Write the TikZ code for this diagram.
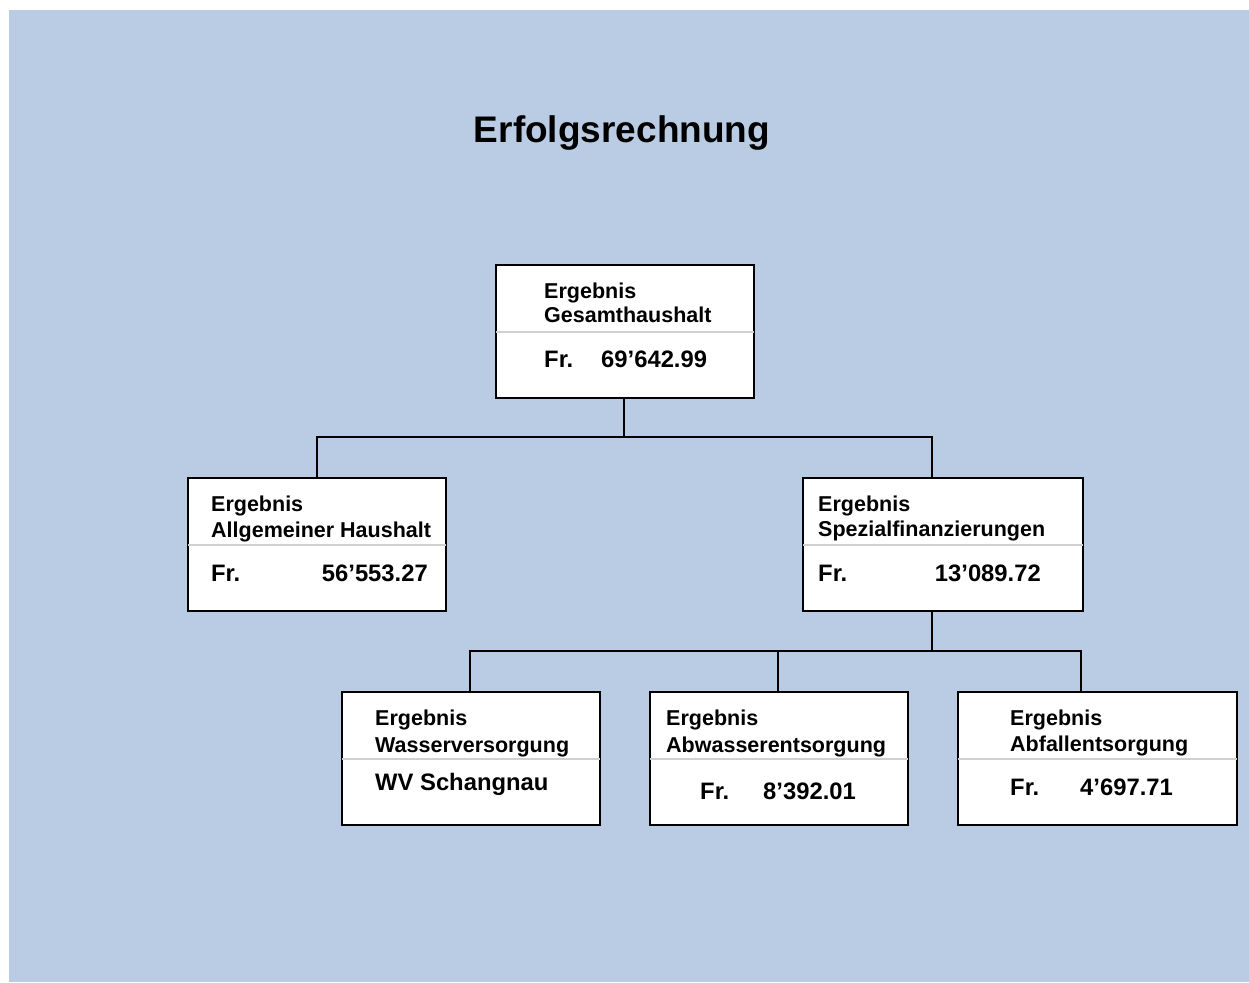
\documentclass[tikz,border=0pt]{standalone}
\usepackage{fontspec}
\setmainfont{Liberation Sans}
\usetikzlibrary{calc}
\definecolor{bgblue}{HTML}{B9CCE4}
\definecolor{sepgray}{HTML}{D0D0D0}
\begin{document}
\begin{tikzpicture}[x=1pt,y=-1pt,
  box/.style={draw=black, fill=white, line width=2pt, rectangle, inner sep=0pt, anchor=north west},
  lbl/.style={inner sep=0pt, anchor=base west, font=\fontsize{21.5}{25}\selectfont\bfseries},
  val/.style={inner sep=0pt, anchor=base west, font=\fontsize{23.8}{28}\selectfont\bfseries},
  valr/.style={inner sep=0pt, anchor=base east, font=\fontsize{23.8}{28}\selectfont\bfseries},
  sep/.style={draw=sepgray, line width=2pt},
  conn/.style={draw=black, line width=1.8pt}]
\useasboundingbox (0,0) rectangle (1249,982);
\fill[white] (0,0) rectangle (1249,982);
\fill[bgblue] (9,10) rectangle (1249,982);
% title
\node[inner sep=0pt, anchor=base, font=\fontsize{37}{44}\selectfont\bfseries] (title) at (622,142) {Erfolgsrechnung};
% boxes
\node[box, minimum width=258pt, minimum height=133pt] (top) at (495,264) {};
\node[box, minimum width=258pt, minimum height=133pt] (left) at (187,477) {};
\node[box, minimum width=280pt, minimum height=133pt] (right) at (802,477) {};
\node[box, minimum width=258pt, minimum height=133pt] (wv) at (341,691) {};
\node[box, minimum width=258pt, minimum height=133pt] (aw) at (649,691) {};
\node[box, minimum width=279pt, minimum height=133pt] (af) at (957,691) {};
% separators
\draw[sep] ($(top.west)+(1,0)$ |- 0,331) -- ($(top.east)+(-1,0)$ |- 0,331);
\draw[sep] ($(left.west)+(1,0)$ |- 0,545) -- ($(left.east)+(-1,0)$ |- 0,545);
\draw[sep] ($(right.west)+(1,0)$ |- 0,545) -- ($(right.east)+(-1,0)$ |- 0,545);
\draw[sep] ($(wv.west)+(1,0)$ |- 0,758) -- ($(wv.east)+(-1,0)$ |- 0,758);
\draw[sep] ($(aw.west)+(1,0)$ |- 0,758) -- ($(aw.east)+(-1,0)$ |- 0,758);
\draw[sep] ($(af.west)+(1,0)$ |- 0,758) -- ($(af.east)+(-1,0)$ |- 0,758);
% texts top
\node[lbl] (t1) at (544,298) {Ergebnis};
\node[lbl] (t2) at (544,322) {Gesamthaushalt};
\node[val] (t3) at (544,367) {Fr.};
\node[val] (t4) at (601,367) {69’642.99};
% left
\node[lbl] (l1) at (211,511) {Ergebnis};
\node[lbl] (l2) at (211,537) {Allgemeiner Haushalt};
\node[val] (l3) at (211,581) {Fr.};
\node[valr] (l4) at (428,581) {56’553.27};
% right
\node[lbl] (r1) at (818,511) {Ergebnis};
\node[lbl] (r2) at (818,536) {Spezialfinanzierungen};
\node[val] (r3) at (818,581) {Fr.};
\node[valr] (r4) at (1041,581) {13’089.72};
% wv
\node[lbl] (w1) at (375,725) {Ergebnis};
\node[lbl] (w2) at (375,752) {Wasserversorgung};
\node[val] (w3) at (375,790) {WV Schangnau};
% aw
\node[lbl] (a1) at (666,725) {Ergebnis};
\node[lbl] (a2) at (666,752) {Abwasserentsorgung};
\node[val] (a3) at (700,799) {Fr.};
\node[val] (a4) at (763,799) {8’392.01};
% af
\node[lbl] (f1) at (1010,725) {Ergebnis};
\node[lbl] (f2) at (1010,751) {Abfallentsorgung};
\node[val] (f3) at (1010,795) {Fr.};
\node[val] (f4) at (1080,795) {4’697.71};
% connectors
\coordinate (j1) at (624,437);
\coordinate (rtop) at (932,477);
\coordinate (rbot) at (932,610);
\coordinate (j2) at (932,651);
\coordinate (wvtop) at (470,691);
\coordinate (awtop) at (778,691);
\coordinate (aftop) at (1081,691);
\draw[conn] (j1 |- top.south) -- (j1);
\draw[conn] (left.north) |- (j1) -| (rtop);
\draw[conn] (rbot) -- (j2);
\draw[conn] (wvtop) |- (j2) -| (aftop);
\draw[conn] (awtop) -- (awtop |- j2);
\end{tikzpicture}
\end{document}
